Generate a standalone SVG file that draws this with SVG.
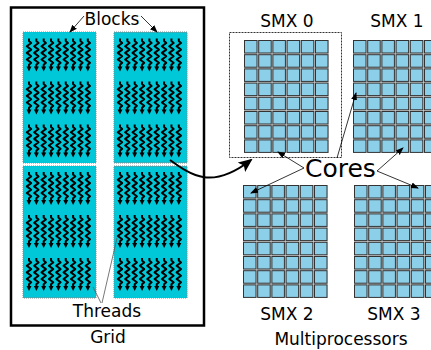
<svg xmlns="http://www.w3.org/2000/svg" xmlns:xlink="http://www.w3.org/1999/xlink" width="431" height="350" viewBox="0 0 431 350">
  <style>
    text { font-family: "DejaVu Sans", "Liberation Sans", sans-serif; fill: #000; }
    .lbl { font-size: 17px; text-anchor: middle; }
    .block { fill: #00c8d8; stroke: #7a8a8c; stroke-width: 1; stroke-dasharray: 1 1; }
    .zig { fill: none; stroke: #000; stroke-width: 2; stroke-linejoin: round; }
    .cell { fill: #8ccfe8; stroke: #333; stroke-width: 1; }
    .ptr { fill: none; stroke: #000; stroke-width: 0.8; }
    .thin { fill: none; stroke: #555; stroke-width: 0.8; }
  </style>
  <defs>
    <marker id="tip" markerUnits="userSpaceOnUse" markerWidth="8" markerHeight="8" viewBox="0 0 8 8" refX="7" refY="4" orient="auto">
      <path d="M0,1 L8,4 L0,7 Z" fill="#000"/>
    </marker>
    <marker id="bigtip" markerUnits="userSpaceOnUse" markerWidth="14" markerHeight="14" viewBox="0 0 14 14" refX="12" refY="7" orient="auto">
      <path d="M0,1 L14,7 L0,13 L3,7 Z" fill="#000"/>
    </marker>
    <!-- one thread: a zigzag ending in a small downward arrowhead -->
    <g id="thr">
      <path class="zig" d="M0,0 L0,2.5 L2.2,4.5 L-2.2,7.8 L2.2,11.1 L-2.2,14.4 L2.2,17.7 L-2.2,21 L2.2,24.3 L0,26.3 L0,29"/>
      <path d="M-2.5,28 L2.5,28 L0,33 Z" fill="#000"/>
    </g>
    <!-- a row of nine threads -->
    <g id="trow">
      <use xlink:href="#thr" x="0"/>
      <use xlink:href="#thr" x="7.35"/>
      <use xlink:href="#thr" x="14.7"/>
      <use xlink:href="#thr" x="22.05"/>
      <use xlink:href="#thr" x="29.4"/>
      <use xlink:href="#thr" x="36.75"/>
      <use xlink:href="#thr" x="44.1"/>
      <use xlink:href="#thr" x="51.45"/>
      <use xlink:href="#thr" x="58.8"/>
    </g>
    <!-- a block: three rows of threads -->
    <g id="blk3">
      <use xlink:href="#trow" y="0"/>
      <use xlink:href="#trow" y="43"/>
      <use xlink:href="#trow" y="86"/>
    </g>
    <!-- a row of six cores -->
    <g id="crow">
      <rect class="cell" x="0.5" y="0.5" width="12.5" height="12.5"/>
      <rect class="cell" x="14.7" y="0.5" width="12.5" height="12.5"/>
      <rect class="cell" x="28.9" y="0.5" width="12.5" height="12.5"/>
      <rect class="cell" x="43.1" y="0.5" width="12.5" height="12.5"/>
      <rect class="cell" x="57.3" y="0.5" width="12.5" height="12.5"/>
      <rect class="cell" x="71.5" y="0.5" width="12.5" height="12.5"/>
    </g>
    <!-- a multiprocessor: 8 x 6 cores -->
    <g id="smx">
      <rect x="0" y="0" width="85" height="113" fill="#d8d8d8"/>
      <use xlink:href="#crow" y="0"/>
      <use xlink:href="#crow" y="14.2"/>
      <use xlink:href="#crow" y="28.4"/>
      <use xlink:href="#crow" y="42.6"/>
      <use xlink:href="#crow" y="56.8"/>
      <use xlink:href="#crow" y="71"/>
      <use xlink:href="#crow" y="85.2"/>
      <use xlink:href="#crow" y="99.4"/>
    </g>
  </defs>

  <rect width="431" height="350" fill="#fff"/>

  <!-- Grid of blocks -->
  <g id="grid">
    <rect x="11" y="7.5" width="193" height="318" fill="none" stroke="#000" stroke-width="2.5"/>
    <text class="lbl" x="108" y="343">Grid</text>
  </g>
  <g id="block-0">
    <rect class="block" x="23" y="32" width="73" height="131"/>
    <use xlink:href="#blk3" x="29" y="38.5"/>
  </g>
  <g id="block-1">
    <rect class="block" x="114" y="32" width="73" height="131"/>
    <use xlink:href="#blk3" x="120" y="38.5"/>
  </g>
  <g id="block-2">
    <rect class="block" x="23" y="166" width="73" height="132"/>
    <use xlink:href="#blk3" x="29" y="172"/>
  </g>
  <g id="block-3">
    <rect class="block" x="114" y="166" width="73" height="132"/>
    <use xlink:href="#blk3" x="120" y="172"/>
  </g>
  <g id="blocks-label">
    <text class="lbl" x="112" y="25">Blocks</text>
  </g>
  <g id="threads-label">
    <text class="lbl" x="107" y="317">Threads</text>
  </g>

  <!-- Multiprocessors -->
  <g id="smx-0">
    <rect x="229.5" y="32.5" width="112" height="125" fill="none" stroke="#333" stroke-width="1" stroke-dasharray="2 1"/>
    <use xlink:href="#smx" x="244" y="40"/>
    <text class="lbl" x="287" y="27">SMX 0</text>
  </g>
  <g id="smx-1">
    <use xlink:href="#smx" x="353" y="40"/>
    <text class="lbl" x="397" y="27">SMX 1</text>
  </g>
  <g id="smx-2">
    <use xlink:href="#smx" x="243" y="185"/>
    <text class="lbl" x="287" y="320">SMX 2</text>
  </g>
  <g id="smx-3">
    <use xlink:href="#smx" x="354" y="185"/>
    <text class="lbl" x="394" y="320">SMX 3</text>
  </g>
  <g id="multiprocessors-label">
    <text class="lbl" x="341" y="345">Multiprocessors</text>
  </g>
  <g id="cores-label">
    <text x="305" y="177" style="font-size:25px">Cores</text>
  </g>

  <!-- Connectors -->
  <g id="connectors">
    <path class="ptr" d="M84,16 L70,32" marker-end="url(#tip)"/>
    <path class="ptr" d="M141,16 L157,32" marker-end="url(#tip)"/>
    <path class="thin" d="M101,303 L93,287"/>
    <path class="thin" d="M102,303 L117,238"/>
    <path fill="none" stroke="#000" stroke-width="2" d="M170,160 C192,176 212,190 251,160" marker-end="url(#bigtip)"/>
    <path class="ptr" d="M304,168 L278,152" marker-end="url(#tip)"/>
    <path class="ptr" d="M304,168 L251,193" marker-end="url(#tip)"/>
    <path class="ptr" d="M337,158 L356,93" marker-end="url(#tip)"/>
    <path class="ptr" d="M377,171 L403,148" marker-end="url(#tip)"/>
    <path class="ptr" d="M377,171 L418,188" marker-end="url(#tip)"/>
  </g>
</svg>
